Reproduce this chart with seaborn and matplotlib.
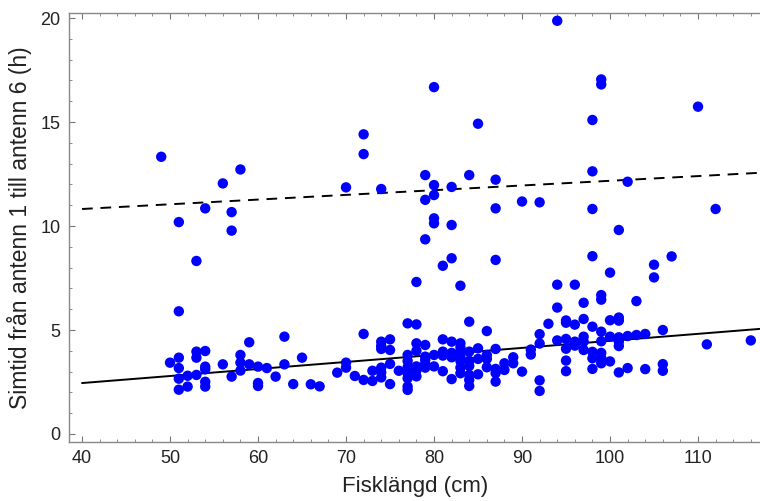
"""Swim time between antenna 1 and 6 versus fish length."""

import matplotlib
matplotlib.use("Agg")
import matplotlib.pyplot as plt
from matplotlib.ticker import MultipleLocator
import seaborn as sns
import numpy as np
import pandas as pd

# fish length (cm) and swim time (h), grouped per length
fish_length = (
    [49] + [50] + [51] * 6 + [52] * 2 + [53] * 4 + [54] * 6 + [56] * 2 + [57] * 3
    + [58] * 4 + [59] * 2 + [60] * 3 + [61] + [62] + [63] * 2 + [64] + [65] + [66]
    + [67] + [69] + [70] * 3 + [71] + [72] * 4 + [73] * 2 + [74] * 7 + [75] * 4
    + [76] + [77] * 8 + [78] * 7 + [79] * 8 + [80] * 7 + [81] * 5 + [82] * 7
    + [83] * 8 + [84] * 8 + [85] * 4 + [86] * 4 + [87] * 7 + [88] * 2 + [89] * 2
    + [90] * 2 + [91] * 2 + [92] * 5 + [93] + [94] * 4 + [95] * 6 + [96] * 4
    + [97] * 5 + [98] * 8 + [99] * 9 + [100] * 4 + [101] * 7 + [102] * 3
    + [103] * 2 + [104] * 2 + [105] * 2 + [106] * 3 + [107] + [110] + [111]
    + [112] + [116]
)
swim_time = [
    13.33,
    3.43,
    10.19, 5.9, 3.67, 3.17, 2.66, 2.13,
    2.80, 2.28,
    8.32, 3.96, 3.67, 2.84,
    10.85, 3.99, 3.24, 3.11, 2.51, 2.28,
    12.05, 3.35,
    10.67, 9.78, 2.76,
    12.72, 3.80, 3.43, 3.05,
    4.41, 3.35,
    3.24, 2.45, 2.31,
    3.17,
    2.76,
    4.68, 3.35,
    2.40,
    3.67,
    2.39,
    2.29,
    2.95,
    11.86, 3.43, 3.19,
    2.79,
    14.41, 13.46, 4.81, 2.60,
    3.04, 2.55,
    11.78, 4.44, 4.23, 4.09, 3.19, 2.96, 2.72,
    4.55, 4.04, 3.37, 2.40,
    3.04,
    5.32, 3.80, 3.51, 3.21, 2.92, 2.68, 2.28, 2.12,
    7.31, 5.27, 4.36, 4.00, 3.25, 3.06, 2.77,
    12.45, 11.26, 9.36, 4.28, 3.72, 3.56, 3.37, 3.19,
    16.68, 11.97, 11.49, 10.37, 10.13, 3.80, 3.25,
    8.09, 4.55, 3.96, 3.77, 3.02,
    11.88, 10.05, 8.45, 4.44, 3.90, 3.69, 2.64,
    7.13, 4.36, 4.17, 3.96, 3.75, 3.51, 3.19, 2.92,
    12.45, 5.40, 3.96, 3.52, 3.27, 2.84, 2.60, 2.31,
    14.92, 4.12, 3.61, 2.87,
    4.95, 3.80, 3.61, 3.21,
    12.23, 10.85, 8.37, 4.09, 3.13, 2.93, 2.52,
    3.40, 3.08,
    3.69, 3.40,
    11.18, 3.0,
    4.06, 3.82,
    11.14, 4.80, 4.35, 2.58, 2.07,
    5.30,
    19.87, 7.18, 6.08, 4.50,
    5.46, 5.35, 4.57, 4.10, 3.53, 3.02,
    7.18, 5.26, 4.44, 4.25,
    6.31, 5.53, 4.68, 4.44, 4.04,
    15.10, 12.63, 10.82, 8.55, 5.16, 3.95, 3.64, 3.13,
    17.05, 16.81, 6.68, 6.46, 4.92, 4.46, 3.90, 3.66, 3.40,
    7.76, 5.47, 4.68, 3.49,
    9.81, 5.60, 5.45, 4.65, 4.44, 4.23, 2.96,
    12.13, 4.71, 3.17,
    6.39, 4.76,
    4.81, 3.12,
    8.14, 7.53,
    5.0, 3.36, 3.04,
    8.54,
    15.74,
    4.31,
    10.82,
    4.50,
]

# fitted lines (intercept at 40 cm, slope per cm)
lower_fit = (2.45, 0.0338)
upper_fit = (10.82, 0.0226)
line_start = 40

XLIM = (38.52, 117.27)
YLIM = (-0.385, 20.23)

sns.set_theme(style="white")
plt.rcParams["font.family"] = ["Liberation Sans", "DejaVu Sans"]

df = pd.DataFrame({"length": fish_length, "time": swim_time})

fig = plt.figure(figsize=(7.6, 5.01), dpi=100)
ax = fig.add_axes([69 / 760, 59 / 501, 693 / 760, 428.7 / 501])

sns.scatterplot(data=df, x="length", y="time", color="#0000ff", s=56,
                edgecolor="none", ax=ax, zorder=3)

xs = np.array([line_start, XLIM[1]])
for (b, k), ls in [(lower_fit, "-"), (upper_fit, (0, (5.5, 4)))]:
    ax.plot(xs, b + k * (xs - line_start), color="black", lw=1.4, ls=ls, zorder=2)

ax.set_xlim(*XLIM)
ax.set_ylim(*YLIM)
ax.xaxis.set_major_locator(MultipleLocator(10))
ax.xaxis.set_minor_locator(MultipleLocator(2))
ax.yaxis.set_major_locator(MultipleLocator(5))
ax.yaxis.set_minor_locator(MultipleLocator(1))
ax.tick_params(which="both", direction="in", top=True, bottom=True, left=True,
               right=False, color="#777777", labelsize=13, labelcolor="#222222")
ax.tick_params(which="major", length=4, width=0.8, pad=6)
ax.tick_params(which="minor", length=2.2, width=0.6)
ax.tick_params(axis="x", labeltop=False)

for side in ["left", "bottom", "top"]:
    ax.spines[side].set_color("#888888")
    ax.spines[side].set_linewidth(1.0)
ax.spines["right"].set_visible(False)

ax.set_xlabel("Fisklängd (cm)", fontsize=16, color="#222222", labelpad=6)
ax.set_ylabel("Simtid från antenn 1 till antenn 6 (h)", fontsize=16.5,
              color="#222222", labelpad=6)

fig.savefig("out.png", dpi=100)
